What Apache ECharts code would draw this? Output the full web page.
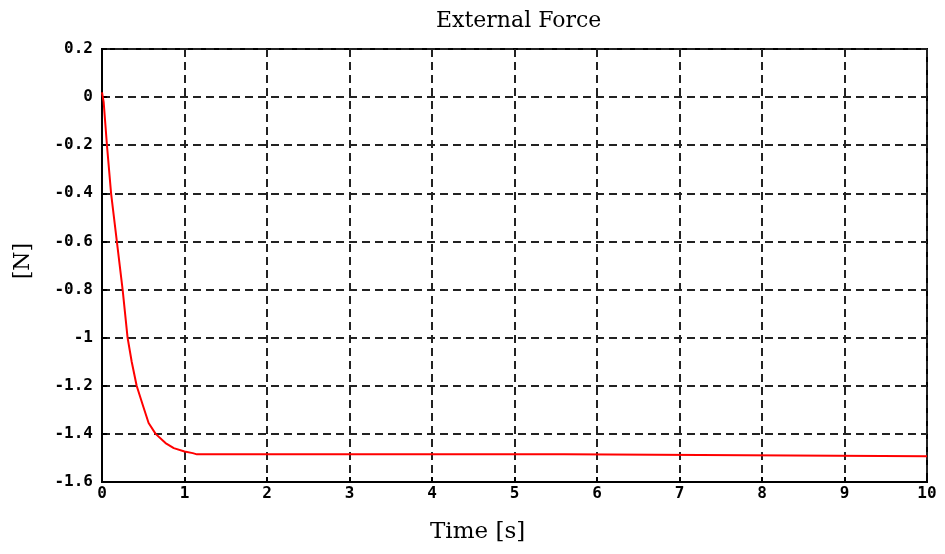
<!DOCTYPE html>
<html>
<head>
<meta charset="utf-8">
<script src="https://cdn.jsdelivr.net/npm/echarts@6/dist/echarts.min.js"></script>
<style>html,body{margin:0;padding:0;background:#fff;}#c{width:945px;height:554px;}</style>
</head>
<body>
<div id="c"></div>
<script>
var titleText = 'External Force';
var xLabel = 'Time [s]';
var yLabel = '[N]';
var time  = [0, 0.02, 0.06, 0.11, 0.18, 0.25, 0.31, 0.36, 0.42, 0.50, 0.565, 0.65, 0.77, 0.87, 1.0, 1.1, 1.15, 5.25, 5.27, 5.29, 5.33, 5.35, 5.37, 5.6, 5.62, 10];
var force = [0.02, -0.02, -0.2, -0.4, -0.6, -0.8, -1.0, -1.1, -1.2, -1.286, -1.355, -1.4, -1.438, -1.459, -1.473, -1.48, -1.485, -1.485, -1.49, -1.485, -1.485, -1.49, -1.485, -1.485, -1.492, -1.493];
var xTicks = [0,1,2,3,4,5,6,7,8,9,10];
var yTicks = [0.2,0,-0.2,-0.4,-0.6,-0.8,-1,-1.2,-1.4,-1.6];

var chart = echarts.init(document.getElementById('c'));
var pts = time.map(function(t,i){return [t, force[i]];});
var tickFont = {fontFamily:'DejaVu Sans Mono', fontWeight:'bold', fontSize:16, color:'#000'};
chart.setOption({
  animation:false,
  backgroundColor:'#fff',
  title:{text:titleText, left:431, top:5,
    textStyle:{fontFamily:'DejaVu Serif', fontWeight:'normal', fontSize:22, color:'#000'}},
  grid:{left:102, right:18, top:49, bottom:72, show:true, borderColor:'#000', borderWidth:2, backgroundColor:'#fff'},
  xAxis:{type:'value', min:0, max:10, interval:1,
    axisLine:{onZero:false, lineStyle:{color:'#000', width:2}},
    axisTick:{inside:true, length:5, lineStyle:{color:'#000', width:2}},
    axisLabel:Object.assign({margin:4, formatter:function(v){return xTicks.indexOf(v)>=0?String(v):'';}}, tickFont),
    splitLine:{show:true, lineStyle:{color:'#222', width:2, type:[8,5]}}},
  yAxis:{type:'value', min:-1.6, max:0.2, interval:0.2,
    axisLine:{onZero:false, lineStyle:{color:'#000', width:2}},
    axisTick:{inside:true, length:5, lineStyle:{color:'#000', width:2}},
    axisLabel:Object.assign({margin:9, formatter:function(v){
      var r = Math.round(v*10)/10;
      for (var i=0;i<yTicks.length;i++){ if (Math.abs(yTicks[i]-r)<1e-9) return String(yTicks[i]); }
      return '';}}, tickFont),
    splitLine:{show:true, lineStyle:{color:'#222', width:2, type:[8,5]}}},
  graphic:[
    {type:'text', left:430, top:521, style:{text:xLabel, fontFamily:'DejaVu Serif', fontSize:23, fill:'#000'}},
    {type:'text', x:23, y:261, rotation:Math.PI/2, style:{text:yLabel, fontFamily:'DejaVu Serif', fontSize:22, fill:'#000', align:'center', verticalAlign:'middle'}}
  ],
  series:[{type:'line', data:pts, showSymbol:false, lineStyle:{color:'#ff0000', width:2}, z:5}]
});
</script>
</body>
</html>
